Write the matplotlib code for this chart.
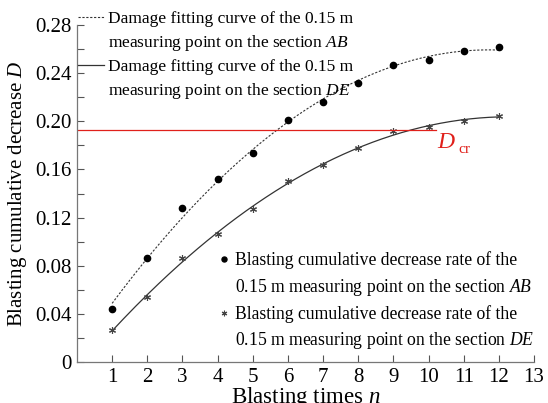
import numpy as np
import matplotlib
matplotlib.use('Agg')
import matplotlib.pyplot as plt
from matplotlib.lines import Line2D
from matplotlib.ticker import MultipleLocator

plt.rcParams['font.family'] = ['Liberation Serif', 'DejaVu Serif']
plt.rcParams['mathtext.fontset'] = 'custom'
plt.rcParams['mathtext.rm'] = 'Liberation Serif'
plt.rcParams['mathtext.it'] = 'Liberation Serif:italic'

# blasting times and measured cumulative decrease rates
n = np.arange(1, 13)
d_ab = [0.044, 0.086, 0.128, 0.152, 0.174, 0.201, 0.216, 0.232, 0.247, 0.251, 0.258, 0.262]
d_de = [0.027, 0.054, 0.086, 0.106, 0.127, 0.150, 0.164, 0.178, 0.192, 0.195, 0.200, 0.204]
d_cr = 0.1925

# quadratic fitting curves of the measured points
nn = np.linspace(1, 12, 200)
fit_ab = np.polyval(np.polyfit(n, d_ab, 2), nn)
fit_de = np.polyval(np.polyfit(n, d_de, 2), nn)

fig = plt.figure(figsize=(5.48, 4.03), dpi=100)
ax = fig.add_axes([0.1405, 0.1017, 0.834, 0.8363])

l1, = ax.plot(nn, fit_ab, ls=(0, (2, 1.5)), c='#333333', lw=0.8)
l2, = ax.plot(nn, fit_de, ls='-', c='#333333', lw=0.9)
p1, = ax.plot(n, d_ab, 'o', c='black', ms=4.5, ls='none')
p2, = ax.plot(n, d_de, marker=(6, 2, 0), c='#444444', ms=5, mew=0.8, ls='none')

ax.plot([0, 10.2], [d_cr, d_cr], c='#e0201b', lw=0.9)
ax.text(10.25, d_cr - 0.001, '$D$', color='#e0201b', fontsize=17, va='top', ha='left')
ax.text(10.84, d_cr - 0.0105, 'cr', color='#e0201b', fontsize=11, va='top', ha='left')

ax.set_xlim(0, 13)
ax.set_ylim(0, 0.28)
ax.set_xticks(range(1, 14))
ax.yaxis.set_major_locator(MultipleLocator(0.04))
ax.yaxis.set_minor_locator(MultipleLocator(0.02))
ax.set_yticklabels(['0' if t == 0 else '%.2f' % t for t in ax.get_yticks()])
ax.tick_params(which='both', direction='in', length=5, width=0.8, color='#555555',
               labelsize=15, pad=4)
ax.tick_params(axis='y', which='minor', length=5)
for s in ['top', 'right']:
    ax.spines[s].set_visible(False)
for s in ['left', 'bottom']:
    ax.spines[s].set_color('#777777')
    ax.spines[s].set_linewidth(0.9)

ax.set_xlabel('Blasting times $n$', fontsize=16.5, labelpad=-1)
ax.set_ylabel('Blasting cumulative decrease $D$', fontsize=15, labelpad=4)

blank = Line2D([], [], ls='none')

leg1 = ax.legend([l1, blank, l2, blank],
                 ['Damage fitting curve of the 0.15 m',
                  'measuring point on the section $AB$',
                  'Damage fitting curve of the 0.15 m',
                  'measuring point on the section $DE$'],
                 loc='upper left', bbox_to_anchor=(0.003, 1.043), frameon=False, fontsize=12.5,
                 handlelength=1.5, handletextpad=0.2, labelspacing=0.34, borderaxespad=0.0,
                 borderpad=0.0)
ax.add_artist(leg1)

leg2 = ax.legend([p1, blank, p2, blank],
                 ['Blasting cumulative decrease rate of the',
                  '0.15 m measuring point on the section $AB$',
                  'Blasting cumulative decrease rate of the',
                  '0.15 m measuring point on the section $DE$'],
                 loc='lower left', bbox_to_anchor=(0.31, 0.032), frameon=False, fontsize=12.7,
                 handlelength=0.6, handletextpad=0.35, labelspacing=0.42, borderaxespad=0.0,
                 borderpad=0.0, markerscale=0.8)

fig.savefig('out.png', dpi=100)
